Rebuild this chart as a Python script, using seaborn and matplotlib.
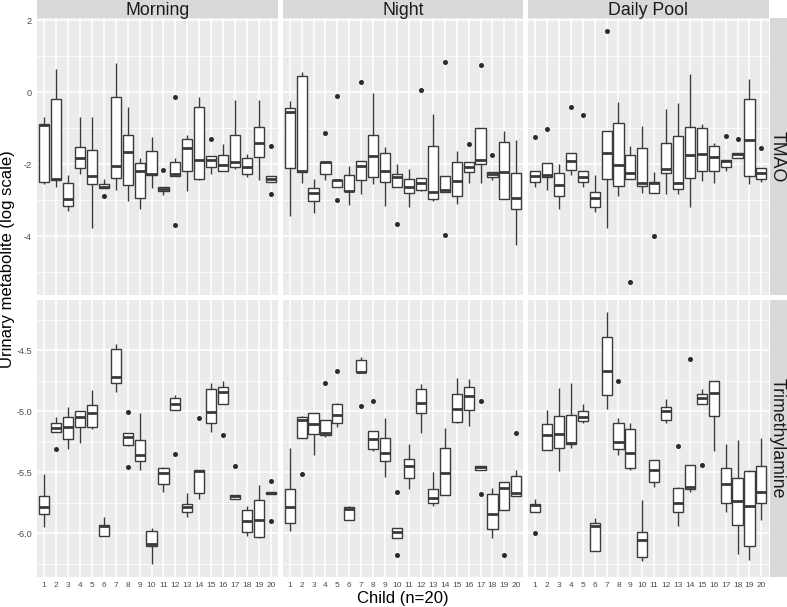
import matplotlib
matplotlib.use("Agg")
import pandas as pd
import matplotlib.pyplot as plt
import seaborn as sns

TIMES = ["Morning", "Night", "Daily Pool"]
METABOLITES = ["TMAO", "Trimethylamine"]
CHILDREN = [str(i) for i in range(1, 21)]

# per child: (lower whisker, Q1, median, Q3, upper whisker)
TMAO_MORNING = [
    (-2.56, -2.48, -0.90, -0.87, -0.68), (-2.64, -2.44, -2.42, -0.19, 0.64),
    (-3.29, -3.16, -2.97, -2.51, -2.31), (-2.28, -2.11, -1.82, -1.51, -0.70),
    (-3.78, -2.55, -2.33, -1.61, -0.70), (-2.66, -2.66, -2.64, -2.56, -2.42),
    (-2.71, -2.39, -2.06, -0.12, 0.81), (-3.03, -2.59, -1.65, -1.18, -0.42),
    (-3.23, -2.95, -2.20, -1.96, -1.83), (-2.67, -2.31, -2.27, -1.64, -1.25),
    (-2.86, -2.75, -2.69, -2.64, -2.64), (-2.32, -2.32, -2.26, -1.93, -1.84),
    (-2.73, -2.19, -1.56, -1.31, -1.20), (-2.44, -2.40, -1.88, -0.40, -0.12),
    (-2.28, -2.09, -1.88, -1.78, -1.78), (-2.19, -2.19, -2.03, -1.75, -1.44),
    (-2.13, -2.08, -1.94, -1.19, -0.23), (-2.36, -2.27, -2.08, -1.84, -1.71),
    (-2.44, -1.81, -1.41, -0.96, -0.21), (-2.49, -2.49, -2.42, -2.34, -2.34),
]
TMAO_MORNING_OUT = {6: [-2.88], 11: [-2.17], 12: [-0.12, -3.69], 15: [-1.30],
                    20: [-1.50, -2.83]}

TMAO_NIGHT = [
    (-3.45, -2.11, -0.54, -0.44, -0.24), (-2.51, -2.22, -2.18, 0.44, 0.57),
    (-3.36, -3.03, -2.80, -2.67, -2.40), (-2.44, -2.28, -1.94, -1.93, -1.93),
    (-2.63, -2.63, -2.44, -2.43, -2.43), (-3.12, -2.74, -2.74, -2.29, -2.05),
    (-2.83, -2.44, -2.04, -1.90, -1.90), (-2.56, -2.36, -1.77, -1.18, -0.03),
    (-3.16, -2.49, -2.18, -1.68, -1.51), (-2.64, -2.64, -2.36, -2.28, -2.00),
    (-3.18, -2.81, -2.64, -2.41, -2.14), (-2.75, -2.71, -2.53, -2.39, -2.39),
    (-3.03, -2.97, -2.77, -1.48, -0.61), (-2.78, -2.78, -2.72, -2.32, -2.32),
    (-3.11, -2.88, -2.47, -1.93, -1.63), (-2.53, -2.22, -2.09, -1.94, -1.94),
    (-2.53, -1.99, -1.88, -0.98, -0.98), (-2.44, -2.36, -2.27, -2.22, -2.22),
    (-2.97, -2.97, -2.21, -1.39, -1.09), (-4.24, -3.24, -2.94, -2.25, -1.34),
]
TMAO_NIGHT_OUT = {4: [-1.12], 5: [-0.11, -2.99], 7: [0.27], 10: [-3.66], 12: [0.06],
                  14: [0.83, -3.96], 16: [-1.45], 17: [0.76], 18: [-1.75]}

TMAO_POOL = [
    (-2.62, -2.48, -2.32, -2.19, -2.19), (-2.71, -2.35, -2.31, -1.97, -1.97),
    (-3.23, -2.89, -2.59, -2.25, -1.99), (-2.30, -2.17, -1.91, -1.68, -1.68),
    (-2.62, -2.49, -2.35, -2.20, -2.20), (-3.33, -3.20, -2.94, -2.78, -2.29),
    (-3.76, -2.40, -1.69, -1.09, -1.09), (-2.87, -2.61, -2.02, -0.85, -0.28),
    (-2.42, -2.42, -2.24, -1.74, -1.49), (-2.81, -2.61, -2.51, -1.55, -0.94),
    (-2.79, -2.79, -2.53, -2.48, -2.21), (-2.83, -2.23, -2.14, -1.42, -0.46),
    (-2.82, -2.69, -2.52, -1.21, -0.31), (-3.19, -2.37, -1.73, -0.97, 0.51),
    (-2.46, -2.19, -1.71, -1.00, -0.88), (-2.51, -2.19, -1.79, -1.48, -1.40),
    (-2.20, -2.08, -1.92, -1.88, -1.88), (-1.82, -1.82, -1.72, -1.69, -1.69),
    (-2.56, -2.34, -1.32, -0.18, 0.37), (-2.48, -2.42, -2.25, -2.11, -2.11),
]
TMAO_POOL_OUT = {1: [-1.24], 2: [-1.02], 4: [-0.42], 5: [-0.62], 7: [1.70], 9: [-5.27],
                 11: [-3.99], 17: [-1.21], 18: [-1.31], 20: [-1.56]}

TMA_MORNING = [
    (-5.95, -5.84, -5.79, -5.70, -5.52), (-5.17, -5.17, -5.14, -5.10, -5.05),
    (-5.31, -5.23, -5.13, -5.05, -4.97), (-5.26, -5.13, -5.05, -5.00, -5.00),
    (-5.15, -5.13, -5.02, -4.95, -4.83), (-6.02, -6.02, -5.94, -5.93, -5.87),
    (-4.84, -4.77, -4.72, -4.49, -4.45), (-5.29, -5.28, -5.21, -5.18, -5.18),
    (-5.48, -5.41, -5.36, -5.24, -5.02), (-6.25, -6.11, -6.09, -5.98, -5.96),
    (-5.66, -5.60, -5.51, -5.47, -5.46), (-4.99, -4.99, -4.94, -4.89, -4.87),
    (-5.87, -5.83, -5.79, -5.76, -5.67), (-5.72, -5.67, -5.49, -5.48, -5.48),
    (-5.17, -5.10, -5.01, -4.82, -4.77), (-4.94, -4.94, -4.84, -4.80, -4.75),
    (-5.72, -5.72, -5.70, -5.69, -5.69), (-6.02, -5.99, -5.90, -5.81, -5.78),
    (-6.04, -6.03, -5.89, -5.73, -5.61), (-5.68, -5.68, -5.67, -5.66, -5.66),
]
TMA_MORNING_OUT = {2: [-5.31], 8: [-5.01, -5.46], 12: [-5.35], 14: [-5.06], 16: [-5.20],
                   17: [-5.45], 20: [-5.57, -5.90]}

TMA_NIGHT = [
    (-5.98, -5.92, -5.79, -5.64, -5.30), (-5.22, -5.22, -5.07, -5.05, -5.04),
    (-5.36, -5.19, -5.11, -5.02, -5.02), (-5.21, -5.20, -5.18, -5.07, -5.07),
    (-5.13, -5.10, -5.03, -4.94, -4.93), (-5.89, -5.89, -5.80, -5.79, -5.78),
    (-4.68, -4.68, -4.68, -4.58, -4.56), (-5.33, -5.31, -5.23, -5.16, -5.16),
    (-5.54, -5.41, -5.34, -5.22, -5.06), (-6.04, -6.04, -5.99, -5.96, -5.96),
    (-5.64, -5.55, -5.45, -5.39, -5.27), (-5.18, -5.02, -4.93, -4.82, -4.78),
    (-5.78, -5.75, -5.71, -5.64, -5.50), (-5.69, -5.69, -5.51, -5.30, -5.14),
    (-5.10, -5.09, -4.98, -4.86, -4.73), (-5.12, -4.99, -4.88, -4.80, -4.74),
    (-5.48, -5.48, -5.46, -5.45, -5.45), (-6.04, -5.97, -5.84, -5.68, -5.63),
    (-5.81, -5.81, -5.63, -5.58, -5.58), (-5.70, -5.70, -5.67, -5.53, -5.48),
]
TMA_NIGHT_OUT = {2: [-5.52], 4: [-4.77], 5: [-4.67], 7: [-4.96], 8: [-4.92],
                 10: [-5.66, -6.18], 17: [-4.92, -5.68], 19: [-6.18], 20: [-5.18]}

TMA_POOL = [
    (-5.83, -5.83, -5.77, -5.76, -5.72), (-5.32, -5.32, -5.20, -5.11, -4.99),
    (-5.49, -5.30, -5.19, -5.04, -4.81), (-5.30, -5.27, -5.26, -5.03, -4.77),
    (-5.10, -5.08, -5.05, -5.00, -4.94), (-6.15, -6.15, -5.94, -5.92, -5.88),
    (-4.98, -4.87, -4.67, -4.39, -4.19), (-5.36, -5.31, -5.25, -5.10, -5.06),
    (-5.48, -5.47, -5.34, -5.15, -5.10), (-6.23, -6.20, -6.06, -5.99, -5.73),
    (-5.62, -5.58, -5.48, -5.40, -5.40), (-5.10, -5.07, -5.00, -4.97, -4.90),
    (-5.94, -5.83, -5.75, -5.63, -5.62), (-5.66, -5.64, -5.62, -5.44, -5.44),
    (-4.94, -4.94, -4.89, -4.86, -4.82), (-5.33, -5.04, -4.85, -4.75, -4.75),
    (-5.83, -5.75, -5.60, -5.47, -5.27), (-6.17, -5.93, -5.74, -5.55, -5.24),
    (-6.22, -6.11, -5.78, -5.49, -5.48), (-5.89, -5.75, -5.66, -5.45, -5.22),
]
TMA_POOL_OUT = {1: [-6.00], 8: [-4.75], 13: [-5.29], 14: [-4.57], 15: [-5.44]}

PANELS = {
    ("TMAO", "Morning"): (TMAO_MORNING, TMAO_MORNING_OUT),
    ("TMAO", "Night"): (TMAO_NIGHT, TMAO_NIGHT_OUT),
    ("TMAO", "Daily Pool"): (TMAO_POOL, TMAO_POOL_OUT),
    ("Trimethylamine", "Morning"): (TMA_MORNING, TMA_MORNING_OUT),
    ("Trimethylamine", "Night"): (TMA_NIGHT, TMA_NIGHT_OUT),
    ("Trimethylamine", "Daily Pool"): (TMA_POOL, TMA_POOL_OUT),
}

Y_LIMITS = {"TMAO": (-5.63, 2.06), "Trimethylamine": (-6.36, -4.09)}
Y_MAJOR = {"TMAO": [-4, -2, 0, 2], "Trimethylamine": [-6.0, -5.5, -5.0, -4.5]}
Y_MINOR = {"TMAO": [-5, -3, -1, 1], "Trimethylamine": [-6.25, -5.75, -5.25, -4.75, -4.25]}
Y_LABELS = {"TMAO": ["-4", "-2", "0", "2"], "Trimethylamine": ["-6.0", "-5.5", "-5.0", "-4.5"]}


def box_values(stats, outliers):
    # 13 values whose quartiles / whiskers reproduce the five-number summary
    wlo, q1, med, q3, whi = stats
    low = sorted(o for o in outliers if o < q1)
    high = sorted(o for o in outliers if o > q3)
    return (low + [wlo] * (3 - len(low)) + [q1] + [med] * 5 + [q3]
            + [whi] * (3 - len(high)) + high)


rows = []
for (metabolite, time), (stats_list, out) in PANELS.items():
    for i, stats in enumerate(stats_list):
        for v in box_values(stats, out.get(i + 1, [])):
            rows.append({"metabolite": metabolite, "time": time,
                         "child": CHILDREN[i], "value": v})
df = pd.DataFrame(rows)

sns.set_theme(style="darkgrid")
plt.rcParams["font.family"] = ["Liberation Sans", "DejaVu Sans"]
plt.rcParams["axes.unicode_minus"] = False

W, H = 787, 607
fig = plt.figure(figsize=(W / 100, H / 100), dpi=100)
fig.patch.set_facecolor("white")


def px_rect(x0, x1, y0, y1):
    return [x0 / W, 1 - y1 / H, (x1 - x0) / W, (y1 - y0) / H]


PANEL_X = [(37, 278), (282.5, 523.5), (528, 768.5)]
PANEL_Y = [(18, 295), (300, 577)]
EDGE = "#3a3a3a"
STRIP = "#D9D9D9"

for r, metabolite in enumerate(METABOLITES):
    for c, time in enumerate(TIMES):
        x0, x1 = PANEL_X[c]
        y0, y1 = PANEL_Y[r]
        ax = fig.add_axes(px_rect(x0, x1, y0, y1))
        ax.set_facecolor("#EBEBEB")
        sub = df[(df["metabolite"] == metabolite) & (df["time"] == time)]
        sns.boxplot(
            data=sub, x="child", y="value", order=CHILDREN, ax=ax,
            color="white", linecolor=EDGE, linewidth=1.0, width=0.85,
            showcaps=False,
            flierprops=dict(marker="o", markersize=3.6, markerfacecolor="#2b2b2b",
                            markeredgecolor="#2b2b2b", markeredgewidth=0),
            medianprops=dict(color=EDGE, linewidth=2.0),
        )
        ax.set_xlim(-0.6, 19.6)
        ax.set_ylim(*Y_LIMITS[metabolite])
        ax.set_yticks(Y_MAJOR[metabolite])
        ax.set_yticklabels(Y_LABELS[metabolite])
        ax.set_yticks(Y_MINOR[metabolite], minor=True)
        ax.set_xticks(range(20))
        ax.set_xticklabels(CHILDREN)
        ax.set_axisbelow(True)
        ax.grid(which="major", color="white", linewidth=1.1)
        ax.grid(which="minor", axis="y", color="white", linewidth=0.55)
        for sp in ax.spines.values():
            sp.set_visible(False)
        ax.set_xlabel("")
        ax.set_ylabel("")
        ax.tick_params(which="major", length=2.8, width=0.8, color="#333333",
                       labelcolor="#4D4D4D", pad=0.8)
        ax.tick_params(axis="x", labelsize=6.0)
        ax.tick_params(axis="y", labelsize=6.6)
        ax.tick_params(which="minor", length=0)
        if r == 0:
            ax.tick_params(axis="x", length=0, labelbottom=False)
        if c > 0:
            ax.tick_params(axis="y", length=0, labelleft=False)

        if r == 0:
            sax = fig.add_axes(px_rect(x0, x1, 0, 18))
            sax.set_facecolor(STRIP)
            sax.set_xticks([])
            sax.set_yticks([])
            for sp in sax.spines.values():
                sp.set_visible(False)
            sax.text(0.5, 0.42, time, ha="center", va="center", fontsize=12.8,
                     color="#1A1A1A", transform=sax.transAxes)

    rax = fig.add_axes(px_rect(769.5, 787, PANEL_Y[r][0], PANEL_Y[r][1]))
    rax.set_facecolor(STRIP)
    rax.set_xticks([])
    rax.set_yticks([])
    for sp in rax.spines.values():
        sp.set_visible(False)
    rax.text(0.42, 0.5, metabolite, ha="center", va="center", rotation=-90,
             fontsize=12.8, color="#1A1A1A", transform=rax.transAxes)

fig.text(402.5 / W, 1 - 598.5 / H, "Child (n=20)", ha="center", va="center",
         fontsize=12, color="#000000")
fig.text(7.5 / W, 1 - 259 / H, "Urinary metabolite (log scale)", ha="center",
         va="center", rotation=90, fontsize=12, color="#000000")

fig.savefig("out.png", dpi=100)
